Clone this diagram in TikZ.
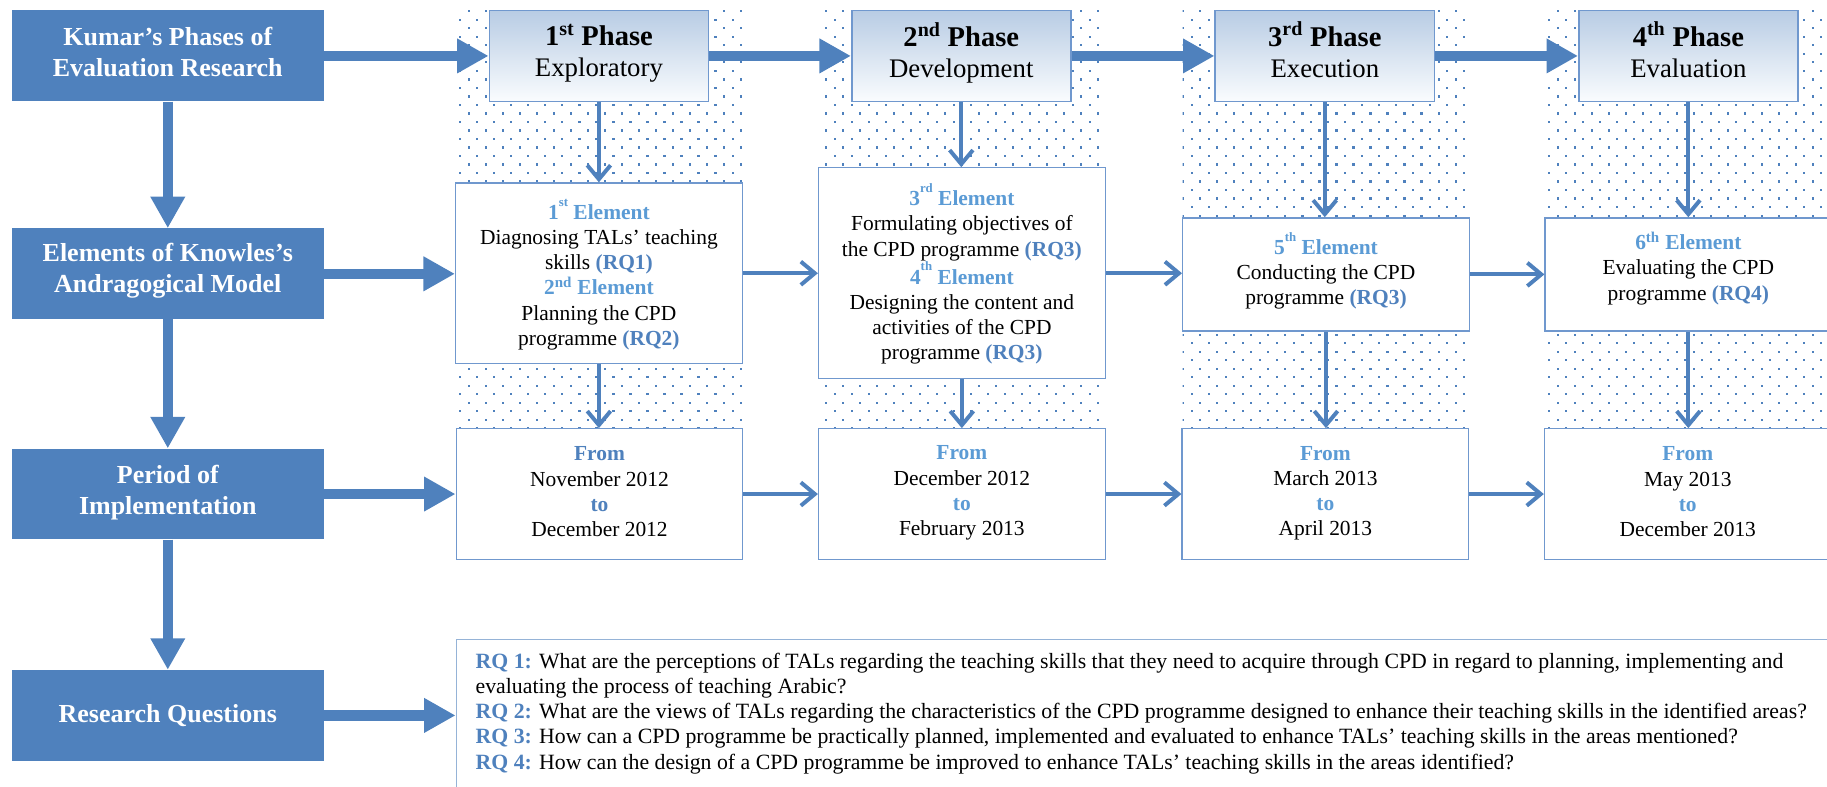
\documentclass[tikz,border=0pt]{standalone}
\usepackage{fontspec}
\setmainfont{Liberation Serif}
\usetikzlibrary{arrows.meta,patterns.meta}

\definecolor{boxblue}{RGB}{79,129,189}
\definecolor{lightblue}{RGB}{91,155,213}
\definecolor{edgeblue}{RGB}{112,152,206}
\definecolor{rqedge}{RGB}{149,179,215}
\definecolor{phasetop}{RGB}{184,204,228}
\definecolor{phasebot}{RGB}{250,252,254}

% staggered dot texture behind the phase columns
\tikzdeclarepattern{
  name=stagdots,
  type=uncolored,
  bottom left={(-0.5pt,-0.5pt)},
  top right={(14.1pt,14.1pt)},
  tile size={(14.6pt,14.6pt)},
  code={
    \fill (0pt,0pt) rectangle (1.8pt,1.8pt);
    \fill (7.3pt,7.3pt) rectangle (9.1pt,9.1pt);
  }
}

\newcommand\hdr[1]{\textcolor{lightblue}{\bfseries #1}}
\newcommand\hdrdark[1]{\textcolor{boxblue}{\bfseries #1}}
\newcommand\rqtag[1]{\textcolor{boxblue}{\bfseries #1}}
\newcommand\highsup[1]{\raisebox{0.62em}{\fontsize{11}{11}\selectfont #1}}
\newcommand\phasetitle[2]{{\fontsize{24.5}{26.5}\selectfont\bfseries #1\textsuperscript{#2} Phase}}

\begin{document}
\begin{tikzpicture}[x=1pt,y=-1pt,
  leftbox/.style={rectangle, fill=boxblue, minimum width=268pt,
    minimum height=78pt, inner sep=0pt},
  lefttext/.style={text=white, font=\fontsize{22.3}{26.5}\selectfont\bfseries,
    align=center, inner sep=0pt},
  phasebox/.style={rectangle, draw=edgeblue, line width=1.4pt,
    top color=phasetop, bottom color=phasebot,
    minimum width=188pt, minimum height=78pt, inner sep=0pt},
  phasetext/.style={font=\fontsize{23}{26.5}\selectfont, align=center,
    inner sep=0pt},
  infobox/.style={rectangle, draw=edgeblue, line width=1.1pt, fill=white,
    minimum width=246pt, inner sep=0pt},
  infotext/.style={font=\fontsize{18.4}{21.6}\selectfont, align=center,
    inner sep=0pt},
  dotfield/.style={pattern=stagdots, pattern color=boxblue},
  bigarrow/.style={draw=boxblue, line width=9pt,
    -{Triangle[length=27pt,width=28pt]}},
  smallarrow/.style={draw=boxblue, line width=3.4pt,
    -{Straight Barb[length=12pt,width=20pt]}},
  rqline/.style={anchor=base west, inner sep=0pt,
    font=\fontsize{18.7}{21.5}\selectfont}
]
\useasboundingbox (0,0) rectangle (1568,675);
\clip (0,0) rectangle (1568,675);

% dotted column backgrounds
\fill[dotfield] (391,8) rectangle (637,480);
\fill[dotfield] (703,8) rectangle (948,480);
\fill[dotfield] (1015,8) rectangle (1261,480);
\fill[dotfield] (1326,8) rectangle (1580,480);

% left-hand headings
\node[leftbox] (kumar)   at (144,48)  {};
\node[leftbox] (knowles) at (144,235) {};
\node[leftbox] (period)  at (144,424) {};
\node[leftbox] (rqs)     at (144,614) {};
\node[lefttext] (kumartxt)   at (144,45)    {Kumar’s Phases of\\Evaluation Research};
\node[lefttext] (knowlestxt) at (144,232.5) {Elements of Knowles’s\\Andragogical Model};
\node[lefttext] (periodtxt)  at (144,423)   {Period of\\Implementation};
\node[lefttext] (rqstxt)     at (144,614)   {Research Questions};

% phases
\node[phasebox] (p1) at (514,48)  {};
\node[phasebox] (p2) at (825,48)  {};
\node[phasebox] (p3) at (1137,48) {};
\node[phasebox] (p4) at (1449,48) {};
\node[phasetext] (p1txt) at (514,45.5)  {\phasetitle{1}{st}\\Exploratory};
\node[phasetext] (p2txt) at (825,45.5)  {\phasetitle{2}{nd}\\Development};
\node[phasetext] (p3txt) at (1137,42.5) {\phasetitle{3}{rd}\\Execution};
\node[phasetext] (p4txt) at (1449,42.5) {\phasetitle{4}{th}\\Evaluation};

% elements
\node[infobox, minimum height=155pt] (e1) at (514,234.5) {};
\node[infobox, minimum height=181pt] (e2) at (825.5,234.5) {};
\node[infobox, minimum height=97pt]  (e3) at (1138,235.5) {};
\node[infobox, minimum height=97pt]  (e4) at (1449,235.5) {};
\node[infotext] (e1txt) at (514,235.5)
  {\hdr{1\highsup{st} Element}\\Diagnosing TALs’ teaching\\skills \rqtag{(RQ1)}\\
   \hdr{2\textsuperscript{nd} Element}\\Planning the CPD\\programme \rqtag{(RQ2)}};
\node[infotext] (e2txt) at (825.5,235)
  {\hdr{3\highsup{rd} Element}\\Formulating objectives of\\the CPD programme \rqtag{(RQ3)}\\
   \hdr{4\highsup{th} Element}\\Designing the content and\\activities of the CPD\\programme \rqtag{(RQ3)}};
\node[infotext] (e3txt) at (1138,232.5)
  {\hdr{5\highsup{th} Element}\\Conducting the CPD\\programme \rqtag{(RQ3)}};
\node[infotext] (e4txt) at (1449,230.3)
  {\hdr{6\textsuperscript{th} Element}\\Evaluating the CPD\\programme \rqtag{(RQ4)}};

% implementation periods
\node[infobox, minimum height=112pt] (d1) at (514.5,424) {};
\node[infobox, minimum height=112pt] (d2) at (825.5,424) {};
\node[infobox, minimum height=112pt] (d3) at (1137.5,424) {};
\node[infobox, minimum height=112pt] (d4) at (1448.5,424) {};
\node[infotext] (d1txt) at (514.5,422)
  {\hdrdark{From}\\November 2012\\\hdrdark{to}\\December 2012};
\node[infotext] (d2txt) at (825.5,423)
  {\hdr{From}\\December 2012\\\hdr{to}\\February 2013};
\node[infotext] (d3txt) at (1137.5,423.5)
  {\hdr{From}\\March 2013\\\hdr{to}\\April 2013};
\node[infotext] (d4txt) at (1448.5,422)
  {\hdr{From}\\May 2013\\\hdr{to}\\December 2013};

% research questions frame and text
\node[draw=rqedge, line width=1.6pt, anchor=north west, inner sep=0pt,
      minimum width=1300pt, minimum height=200pt] (rqframe) at (391,548) {};
\node[rqline] (rq1a) at (408,574)
  {\rqtag{RQ 1:} What are the perceptions of TALs regarding the teaching skills that they need to acquire through CPD in regard to planning, implementing and};
\node[rqline] (rq1b) at (408,595.5)
  {evaluating the process of teaching Arabic?};
\node[rqline] (rq2) at (408,617)
  {\rqtag{RQ 2:} What are the views of TALs regarding the characteristics of the CPD programme designed to enhance their teaching skills in the identified areas?};
\node[rqline] (rq3) at (408,638.5)
  {\rqtag{RQ 3:} How can a CPD programme be practically planned, implemented and evaluated to enhance TALs’ teaching skills in the areas mentioned?};
\node[rqline] (rq4) at (408,660)
  {\rqtag{RQ 4:} How can the design of a CPD programme be improved to enhance TALs’ teaching skills in the areas identified?};

% thick connectors
\draw[bigarrow] (kumar.south) -- (knowles.north);
\draw[bigarrow] (knowles.south) -- (period.north);
\draw[bigarrow] (period.south) -- (rqs.north);
\draw[bigarrow] (kumar.east) -- (p1.west);
\draw[bigarrow] (p1.east) -- (p2.west);
\draw[bigarrow] (p2.east) -- (p3.west);
\draw[bigarrow] (p3.east) -- (p4.west);
\draw[bigarrow] (knowles.east) -- (knowles.east -| e1.west);
\draw[bigarrow] (period.east) -- (period.east -| d1.west);
\draw[bigarrow] (rqs.east) -- (rqs.east -| rqframe.west);

% thin connectors
\draw[smallarrow] (p1.south) -- (p1.south |- e1.north);
\draw[smallarrow] (p2.south) -- (p2.south |- e2.north);
\draw[smallarrow] (p3.south) -- (p3.south |- e3.north);
\draw[smallarrow] (p4.south) -- (p4.south |- e4.north);
\draw[smallarrow] (e1.south) -- (e1.south |- d1.north);
\draw[smallarrow] (e2.south) -- (e2.south |- d2.north);
\draw[smallarrow] (e3.south) -- (e3.south |- d3.north);
\draw[smallarrow] (e4.south) -- (e4.south |- d4.north);
\draw[smallarrow] (e1.east) -- (e1.east -| e2.west);
\draw[smallarrow] (e2.east) -- (e2.east -| e3.west);
\draw[smallarrow] (e3.east) -- (e3.east -| e4.west);
\draw[smallarrow] (d1.east) -- (d1.east -| d2.west);
\draw[smallarrow] (d2.east) -- (d2.east -| d3.west);
\draw[smallarrow] (d3.east) -- (d3.east -| d4.west);
\end{tikzpicture}
\end{document}
